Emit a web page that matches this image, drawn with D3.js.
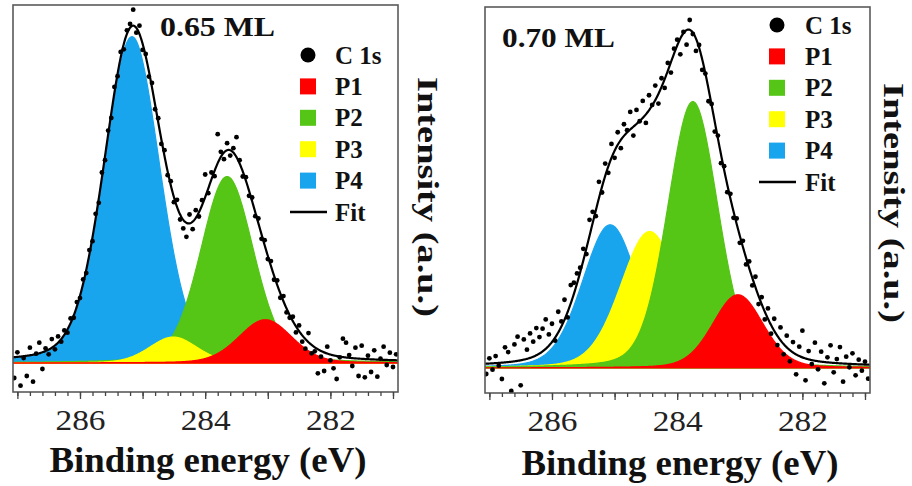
<!DOCTYPE html>
<html>
<head>
	<meta charset="utf-8">
	<title>C 1s spectra</title>
</head>
<body>

<svg class="xps" width="912" height="486"></svg>

<style type="text/css">
	body {
		margin: 0;
		background: #fff;
	}

	.xps {
		display: block;
		font-family: "Liberation Serif", "Times New Roman", serif;
	}

	.xps .frame {
		fill: none;
		stroke: #5a5a5a;
		stroke-width: 1.6px;
	}

	.xps .axis path {
		display: none;
	}

	.xps .axis line {
		stroke: #444;
		stroke-width: 1.3px;
	}

	.xps .axis text {
		font-family: "Liberation Serif", serif;
		font-size: 30px;
		fill: #222;
	}

	.xps .fit {
		fill: none;
		stroke: #000;
		stroke-width: 2.2px;
	}

	.xps .dot {
		fill: #000;
	}

	.xps .bold {
		font-weight: bold;
		fill: #111;
	}
</style>

<script src="https://d3js.org/d3.v7.min.js"></script>
<script type="text/javascript">
	(function() {
		'use strict'

		var peakNames = ['P1', 'P2', 'P3', 'P4']
		var peakColors = ['#ff0000', '#55c516', '#ffff00', '#19a4ee']
		var legendLabels = ['C 1s', 'P1', 'P2', 'P3', 'P4', 'Fit']

		// fitted components: centre (eV), height, FWHM (eV)
		var ml065Centers = [283.04, 283.65, 284.51, 285.17]
		var ml065Heights = [13, 56, 7.8, 98]
		var ml065Fwhm = [1.0, 1.0, 0.9, 1.05]
		var ml065Order = [3, 1, 2, 0]

		var ml070Centers = [283.03, 283.75, 284.44, 285.07]
		var ml070Heights = [22, 80, 41, 43]
		var ml070Fwhm = [0.95, 0.95, 1.1, 1.05]
		var ml070Order = [3, 2, 1, 0]

		// measured points, 287.05 eV downwards in 0.05 eV steps
		var energyStart = 287.05
		var energyStep = 0.05

		var ml065Counts = [-4.5, 3.2, -6.8, 1.5, -3.9, 4.6, -5.6, 2.8, 6.1, -1.8,
			4.4, 2.6, 7.2, 4.1, 8.0, 6.4, 9.8, 9.1, 13.4, 13.6,
			18.3, 19.5, 25.1, 27.0, 33.9, 36.6, 44.8, 48.1, 57.2, 60.9,
			69.8, 73.6, 82.9, 86.1, 93.4, 94.2, 99.9, 101.8, 106.1, 99.2,
			101.3, 94.0, 92.8, 86.0, 84.1, 76.2, 73.5, 65.8, 63.9, 56.4,
			54.6, 48.3, 49.0, 43.1, 40.4, 37.9, 44.6, 40.2, 45.9, 44.0,
			48.9, 56.6, 51.0, 57.2, 56.1, 68.7, 63.4, 61.2, 66.0, 62.3,
			64.5, 67.8, 60.9, 56.0, 55.8, 50.2, 49.7, 44.1, 43.4, 37.3,
			36.9, 31.2, 30.6, 25.0, 24.8, 19.6, 20.1, 15.2, 13.6, 13.9,
			9.2, 11.3, 6.4, 4.3, 9.0, 2.9, 3.5, -3.1, 1.9, -2.4,
			4.9, 0.8, -1.6, -4.8, 1.7, 7.3, 6.1, 2.4, -0.9, 4.6,
			-3.9, 5.2, -4.3, 2.2, -2.7, 3.8, -4.1, 1.3, 4.9, -0.6,
			3.1, -1.2, 2.6]

		var ml070Counts = [-1.8, 2.9, -0.5, 3.6, 0.7, -3.3, 6.2, 4.8, -6.9, 7.1,
			9.4, -5.2, 8.6, 5.5, 10.4, 7.9, 12.0, 9.3, 11.8, 14.6,
			10.1, 13.3, 8.2, 16.9, 14.0, 20.5, 15.2, 24.9, 25.6, 28.4,
			30.1, 35.8, 34.2, 44.5, 46.9, 45.6, 55.9, 52.7, 61.4, 58.6,
			67.3, 63.1, 70.8, 66.0, 73.2, 71.4, 76.9, 69.8, 77.5, 74.1,
			80.2, 73.6, 81.9, 79.0, 84.8, 79.4, 87.0, 84.1, 91.6, 88.7,
			95.9, 98.6, 94.2, 100.9, 97.1, 104.5, 100.3, 95.2, 97.0, 89.5,
			88.4, 80.1, 79.3, 71.0, 69.8, 61.5, 60.6, 52.8, 52.3, 45.1,
			44.9, 37.6, 38.2, 31.1, 32.0, 24.8, 27.4, 19.2, 21.3, 14.6,
			17.9, 10.3, 14.8, 6.9, 12.2, 4.1, 9.7, 2.0, 7.8, -1.9,
			6.4, 11.2, -3.7, 5.1, 1.2, 7.6, -0.4, 4.9, -4.6, 3.2,
			6.8, -1.3, 2.7, 6.3, -4.1, 3.4, 0.2, 4.4, -2.2, 2.5,
			-0.8, 1.9, -3.2]

		var energyDomain = [287.07, 280.92]
		var majorTicks = [287, 286, 285, 284, 283, 282, 281]
		var tickLabels = [286, 284, 282]

		var panels = [
			{
				title: '0.65 ML', centers: ml065Centers, heights: ml065Heights, fwhm: ml065Fwhm,
				order: ml065Order, counts: ml065Counts,
				x0: 13, x1: 398, y0: 5, y1: 392, yDomain: [-8.7, 107.5],
				titleX: 160, titleY: 36, titleLen: 115, titleSize: 28,
				legX: 308, legY: 55, legTextX: 335,
				xLabelX: 208, xLabelY: 472, yLabelX: 418, yLabelY: 197
			},
			{
				title: '0.70 ML', centers: ml070Centers, heights: ml070Heights, fwhm: ml070Fwhm,
				order: ml070Order, counts: ml070Counts,
				x0: 485, x1: 870, y0: 7, y1: 393, yDomain: [-7.5, 108.4],
				titleX: 502, titleY: 47, titleLen: 113, titleSize: 27,
				legX: 777, legY: 25, legTextX: 805,
				xLabelX: 680, xLabelY: 475, yLabelX: 884, yLabelY: 203
			}
		]

		// pseudo-Voigt line shape (80% gauss, 20% lorentz)
		function peak(e, c, h, w) {
			var t = (e - c) / w
			return h * (0.8 * Math.exp(-2.7726 * t * t) + 0.2 / (1 + 4 * t * t))
		}

		var fine = d3.range(280.9, 287.1, 0.01)

		var svg = d3.select('.xps')

		panels.forEach(function(p, pi) {
			var x = d3.scaleLinear().domain(energyDomain).range([p.x0, p.x1])
			var y = d3.scaleLinear().domain(p.yDomain).range([p.y1, p.y0])

			var g = svg.append('g')

			var clipId = 'clip' + pi
			g.append('clipPath').attr('id', clipId)
				.append('rect')
				.attr('x', p.x0).attr('y', p.y0)
				.attr('width', p.x1 - p.x0).attr('height', p.y1 - p.y0)

			var plot = g.append('g').attr('clip-path', 'url(#' + clipId + ')')

			var comps = p.centers.map(function(c, i) {
				return fine.map(function(e) {
					return { e: e, v: peak(e, c, p.heights[i], p.fwhm[i]) }
				})
			})

			var area = d3.area()
				.x(function(d) { return x(d.e) })
				.y0(y(0))
				.y1(function(d) { return y(d.v) })

			p.order.forEach(function(i) {
				plot.append('path')
					.attr('d', area(comps[i]))
					.attr('fill', peakColors[i])
					.attr('stroke', peakColors[i])
					.attr('stroke-width', 1.2)
			})

			var fitData = fine.map(function(e, k) {
				return { e: e, v: d3.sum(comps, function(c) { return c[k].v }) }
			})

			plot.append('path')
				.attr('class', 'fit')
				.attr('d', d3.line()
					.x(function(d) { return x(d.e) })
					.y(function(d) { return y(d.v) })(fitData))

			plot.selectAll('.dot')
				.data(p.counts)
				.enter()
				.append('circle')
				.attr('class', 'dot')
				.attr('cx', function(d, i) { return x(energyStart - i * energyStep) })
				.attr('cy', function(d) { return y(d) })
				.attr('r', 2.4)

			g.append('rect')
				.attr('class', 'frame')
				.attr('x', p.x0).attr('y', p.y0)
				.attr('width', p.x1 - p.x0).attr('height', p.y1 - p.y0)

			// ticks
			var minor = d3.range(281, 287.01, 0.2).map(function(d) { return Math.round(d * 10) / 10 })
			g.append('g')
				.attr('class', 'axis')
				.attr('transform', 'translate(0,' + p.y1 + ')')
				.call(d3.axisBottom(x).tickValues(minor).tickSize(4).tickFormat(''))

			var major = g.append('g')
				.attr('class', 'axis')
				.attr('transform', 'translate(0,' + p.y1 + ')')
				.call(d3.axisBottom(x).tickValues(majorTicks).tickSize(7).tickPadding(10)
					.tickFormat(function(d) { return tickLabels.indexOf(d) >= 0 ? d : '' }))

			major.selectAll('text')
				.filter(function(d) { return tickLabels.indexOf(d) >= 0 })
				.attr('textLength', 50)
				.attr('lengthAdjust', 'spacingAndGlyphs')

			// titles
			g.append('text')
				.attr('class', 'bold')
				.attr('x', p.titleX).attr('y', p.titleY)
				.attr('font-size', p.titleSize)
				.attr('textLength', p.titleLen)
				.attr('lengthAdjust', 'spacingAndGlyphs')
				.text(p.title)

			g.append('text')
				.attr('class', 'bold')
				.attr('x', p.xLabelX).attr('y', p.xLabelY)
				.attr('text-anchor', 'middle')
				.attr('font-size', 36)
				.attr('textLength', 317)
				.attr('lengthAdjust', 'spacingAndGlyphs')
				.text('Binding energy (eV)')

			g.append('text')
				.attr('class', 'bold')
				.attr('transform', 'translate(' + p.yLabelX + ',' + p.yLabelY + ') rotate(90)')
				.attr('text-anchor', 'middle')
				.attr('font-size', 30)
				.attr('textLength', 240)
				.attr('lengthAdjust', 'spacingAndGlyphs')
				.text('Intensity (a.u.)')

			// legend
			var leg = g.append('g')
			legendLabels.forEach(function(label, i) {
				var cy = p.legY + i * 31.4
				if (i === 0) {
					leg.append('circle').attr('cx', p.legX).attr('cy', cy).attr('r', 7.5).attr('fill', '#000')
				} else if (i <= peakNames.length) {
					leg.append('rect')
						.attr('x', p.legX - 8).attr('y', cy - 8)
						.attr('width', 16).attr('height', 16)
						.attr('fill', peakColors[peakNames.indexOf(label)])
				} else {
					leg.append('line')
						.attr('x1', p.legX - 18).attr('x2', p.legX + 19)
						.attr('y1', cy).attr('y2', cy)
						.attr('stroke', '#000').attr('stroke-width', 2.5)
				}
				leg.append('text')
					.attr('class', 'bold')
					.attr('x', p.legTextX).attr('y', cy + 8.5)
					.attr('font-size', 25)
					.text(label)
			})
		})
	})()
</script>
</body>
</html>
